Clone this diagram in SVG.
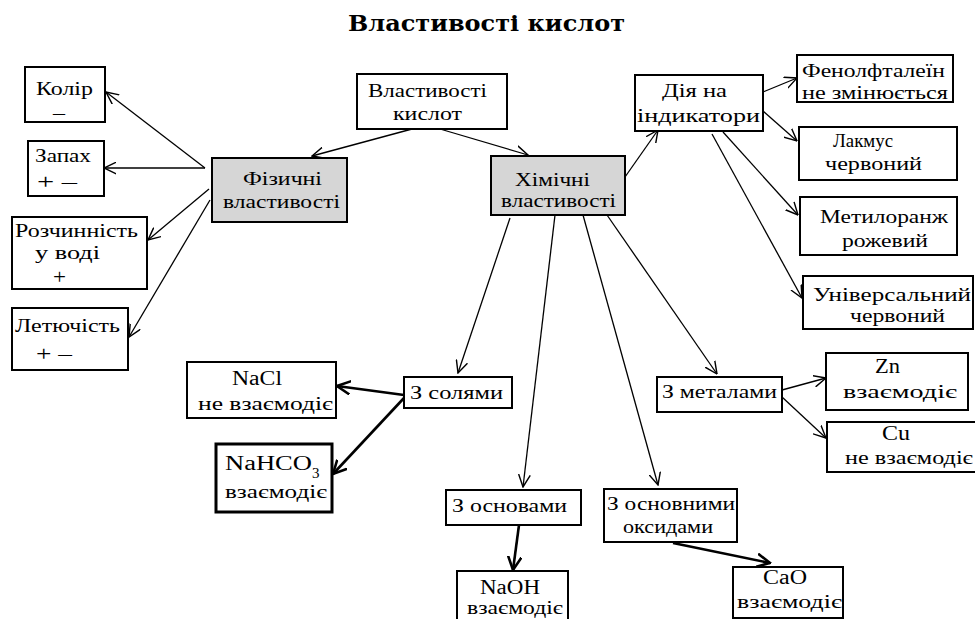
<svg xmlns="http://www.w3.org/2000/svg" width="975" height="619" viewBox="0 0 975 619">
<style>
.box{fill:#fff;stroke:#000;stroke-width:2}
.grey{fill:#d6d6d6;stroke:#000;stroke-width:2}
.bold{fill:#fff;stroke:#000;stroke-width:3}
text{font-family:"Liberation Serif","DejaVu Serif","Noto Serif",serif;font-size:18px;fill:#000}
.lat{font-family:"Liberation Serif","DejaVu Serif",serif;font-size:20px}
.title{font-family:"DejaVu Serif",serif;font-size:22px;font-weight:bold}
.thin{stroke:#000;stroke-width:1.3;fill:none;marker-end:url(#ah)}
.thick{stroke:#000;stroke-width:2.6;fill:none;marker-end:url(#ahb)}
</style>
<defs>
<marker id="ah" markerUnits="userSpaceOnUse" markerWidth="13" markerHeight="13" viewBox="0 0 10 10" refX="9.5" refY="5" orient="auto">
<path d="M0,0.5 L9.5,5 L0,9.5" fill="none" stroke="#000" stroke-width="1.1"/>
</marker>
<marker id="ahb" markerUnits="userSpaceOnUse" markerWidth="15" markerHeight="15" viewBox="0 0 10 10" refX="9" refY="5" orient="auto">
<path d="M0,0.5 L9,5 L0,9.5" fill="none" stroke="#000" stroke-width="1.7"/>
</marker>
</defs>
<rect width="975" height="619" fill="#fff"/>
<text class="title" x="348" y="31" textLength="277" lengthAdjust="spacingAndGlyphs">Властивості  кислот</text>

<g id="connectors">
<line class="thin" x1="412" y1="129" x2="312" y2="156"/>
<line class="thin" x1="440" y1="129" x2="528" y2="155"/>
<line class="thin" x1="205" y1="168" x2="106" y2="92"/>
<line class="thin" x1="205" y1="168" x2="104" y2="168"/>
<line class="thin" x1="209" y1="189" x2="148" y2="240"/>
<line class="thin" x1="210" y1="200" x2="129" y2="337"/>
<line class="thin" x1="625" y1="177" x2="658" y2="130"/>
<line class="thin" x1="763" y1="92" x2="797" y2="78"/>
<line class="thin" x1="763" y1="111" x2="797" y2="141"/>
<line class="thin" x1="723" y1="132" x2="798" y2="215"/>
<line class="thin" x1="712" y1="134" x2="802" y2="298"/>
<line class="thin" x1="510" y1="218" x2="458" y2="373"/>
<line class="thin" x1="555" y1="215" x2="523" y2="487"/>
<line class="thin" x1="583" y1="215" x2="658" y2="485"/>
<line class="thin" x1="607" y1="215" x2="717" y2="374"/>
<line class="thin" x1="782" y1="390" x2="826" y2="378"/>
<line class="thin" x1="782" y1="397" x2="826" y2="438"/>
<line class="thick" x1="404" y1="395" x2="337" y2="386"/>
<line class="thick" x1="404" y1="398" x2="333" y2="474"/>
<line class="thick" x1="519" y1="525" x2="513" y2="570"/>
<line class="thick" x1="673" y1="543" x2="770" y2="563"/>
</g>

<g id="root">
<rect class="box" x="357" y="74" width="150" height="55"/>
<text x="368" y="97" textLength="119" lengthAdjust="spacingAndGlyphs">Властивості</text>
<text x="393" y="120" textLength="69" lengthAdjust="spacingAndGlyphs">кислот</text>
</g>
<g id="physical">
<rect class="grey" x="212" y="158" width="135" height="64"/>
<text x="243" y="185" textLength="79" lengthAdjust="spacingAndGlyphs">Фізичні</text>
<text x="223" y="208" textLength="117" lengthAdjust="spacingAndGlyphs">властивості</text>
</g>
<g id="colour">
<rect class="box" x="25" y="67" width="80" height="55"/>
<text x="36" y="95" textLength="57" lengthAdjust="spacingAndGlyphs">Колір</text>
<text class="lat" x="53" y="120" textLength="12" lengthAdjust="spacingAndGlyphs">–</text>
</g>
<g id="smell">
<rect class="box" x="28" y="141" width="76" height="55"/>
<text x="35" y="162" textLength="56" lengthAdjust="spacingAndGlyphs">Запах</text>
<text class="lat" x="37" y="189" textLength="40" lengthAdjust="spacingAndGlyphs">+  –</text>
</g>
<g id="solubility">
<rect class="box" x="12" y="217" width="135" height="72"/>
<text x="15" y="237" textLength="123" lengthAdjust="spacingAndGlyphs">Розчинність</text>
<text x="35" y="259" textLength="65" lengthAdjust="spacingAndGlyphs">у воді</text>
<text class="lat" x="53" y="284" textLength="13" lengthAdjust="spacingAndGlyphs">+</text>
</g>
<g id="volatility">
<rect class="box" x="12" y="308" width="116" height="62"/>
<text x="15" y="332" textLength="105" lengthAdjust="spacingAndGlyphs">Летючість</text>
<text class="lat" x="36" y="361" textLength="36" lengthAdjust="spacingAndGlyphs">+ –</text>
</g>
<g id="chemical">
<rect class="grey" x="491" y="156" width="134" height="59"/>
<text x="515" y="186" textLength="75" lengthAdjust="spacingAndGlyphs">Хімічні</text>
<text x="501" y="207" textLength="115" lengthAdjust="spacingAndGlyphs">властивості</text>
</g>
<g id="indicators">
<rect class="box" x="635" y="75" width="128" height="56"/>
<text x="662" y="97" textLength="65" lengthAdjust="spacingAndGlyphs">Дія на</text>
<text x="637" y="122" textLength="123" lengthAdjust="spacingAndGlyphs">індикатори</text>
</g>
<g id="phenolphthalein">
<rect class="box" x="797" y="55" width="156" height="47"/>
<text x="802" y="77" textLength="143" lengthAdjust="spacingAndGlyphs">Фенолфталеїн</text>
<text x="802" y="99" textLength="146" lengthAdjust="spacingAndGlyphs">не змінюється</text>
</g>
<g id="litmus">
<rect class="box" x="799" y="127" width="158" height="53"/>
<text x="833" y="147" textLength="60" lengthAdjust="spacingAndGlyphs">Лакмус</text>
<text x="825" y="170" textLength="97" lengthAdjust="spacingAndGlyphs">червоний</text>
</g>
<g id="methylorange">
<rect class="box" x="800" y="197" width="157" height="58"/>
<text x="820" y="223" textLength="128" lengthAdjust="spacingAndGlyphs">Метилоранж</text>
<text x="842" y="247" textLength="86" lengthAdjust="spacingAndGlyphs">рожевий</text>
</g>
<g id="universal">
<rect class="box" x="803" y="276" width="170" height="53"/>
<text x="813" y="301" textLength="158" lengthAdjust="spacingAndGlyphs">Універсальний</text>
<text x="850" y="322" textLength="95" lengthAdjust="spacingAndGlyphs">червоний</text>
</g>
<g id="salts">
<rect class="box" x="404" y="377" width="108" height="31"/>
<text x="410" y="399" textLength="93" lengthAdjust="spacingAndGlyphs">З солями</text>
</g>
<g id="nacl">
<rect class="box" x="187" y="362" width="149" height="56"/>
<text class="lat" x="232" y="385" textLength="50" lengthAdjust="spacingAndGlyphs">NaCl</text>
<text x="198" y="410" textLength="135" lengthAdjust="spacingAndGlyphs">не  взаємодіє</text>
</g>
<g id="nahco3">
<rect class="bold" x="216" y="444" width="116" height="68"/>
<text class="lat" x="225" y="470" textLength="87" lengthAdjust="spacingAndGlyphs">NaHCO</text>
<text class="lat" x="312" y="478" style="font-size:15px">3</text>
<text x="225" y="498" textLength="102" lengthAdjust="spacingAndGlyphs">взаємодіє</text>
</g>
<g id="bases">
<rect class="box" x="446" y="490" width="135" height="35"/>
<text x="452" y="512" textLength="115" lengthAdjust="spacingAndGlyphs">З основами</text>
</g>
<g id="naoh">
<rect class="box" x="457" y="571" width="111" height="50"/>
<text class="lat" x="480" y="594" textLength="60" lengthAdjust="spacingAndGlyphs">NaOH</text>
<text x="467" y="614" textLength="96" lengthAdjust="spacingAndGlyphs">взаємодіє</text>
</g>
<g id="basic-oxides">
<rect class="box" x="604" y="489" width="133" height="53"/>
<text x="607" y="510" textLength="128" lengthAdjust="spacingAndGlyphs">З основними</text>
<text x="623" y="533" textLength="90" lengthAdjust="spacingAndGlyphs">оксидами</text>
</g>
<g id="cao">
<rect class="box" x="733" y="567" width="110" height="51"/>
<text class="lat" x="763" y="584" textLength="44" lengthAdjust="spacingAndGlyphs">CaO</text>
<text x="737" y="608" textLength="105" lengthAdjust="spacingAndGlyphs">взаємодіє</text>
</g>
<g id="metals">
<rect class="box" x="657" y="377" width="125" height="35"/>
<text x="662" y="398" textLength="115" lengthAdjust="spacingAndGlyphs">З металами</text>
</g>
<g id="zn">
<rect class="box" x="826" y="353" width="142" height="57"/>
<text class="lat" x="875" y="373" textLength="25" lengthAdjust="spacingAndGlyphs">Zn</text>
<text x="843" y="398" textLength="114" lengthAdjust="spacingAndGlyphs">взаємодіє</text>
</g>
<g id="cu">
<rect class="box" x="827" y="422" width="150" height="50"/>
<text class="lat" x="882" y="440" textLength="28" lengthAdjust="spacingAndGlyphs">Cu</text>
<text x="845" y="464" textLength="128" lengthAdjust="spacingAndGlyphs">не  взаємодіє</text>
</g>
</svg>
